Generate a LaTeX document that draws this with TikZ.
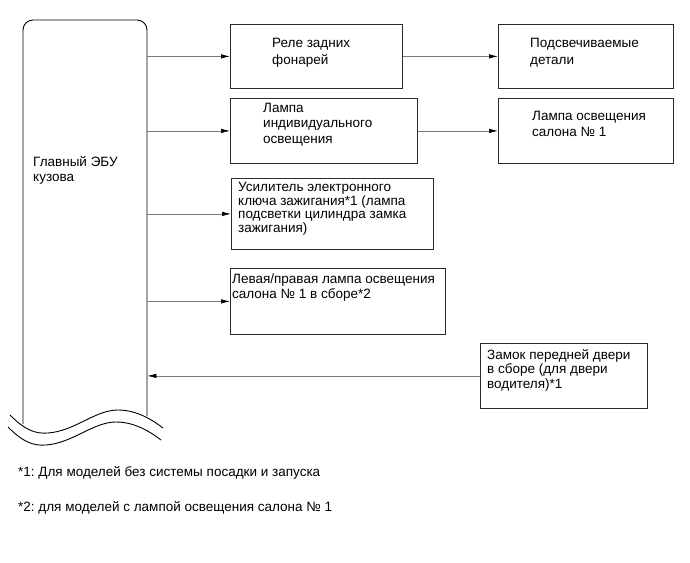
\documentclass[tikz,border=0pt]{standalone}
\usepackage{fontspec}
\setmainfont{Liberation Sans}
\frenchspacing
\usetikzlibrary{arrows.meta}

\begin{document}
\begin{tikzpicture}[x=1pt, y=-1pt]
    \definecolor{borderColour}{HTML}{2B2B2B}
    \definecolor{lineColour}{HTML}{7A7A7A}

    \tikzset{
        box/.style={draw=borderColour, line width=0.8pt, anchor=north west, inner sep=0pt},
        txt/.style={anchor=north west, align=left, inner sep=0pt, font=\fontsize{13.5}{15.5}\selectfont},
        arr/.style={draw=lineColour, line width=0.7pt, -{Latex[length=9pt, width=4.5pt, color=black]}}
    }
    \def\wavePath{(10,415) .. controls (25,430) and (35,434) .. (48,433) .. controls (75,431) and (95,410) .. (118,410) .. controls (135,410) and (150,418) .. (163,428)}

    \useasboundingbox (0,0) rectangle (690,562);

    % Main body ECU, open at the bottom
    \node[anchor=north west, minimum width=124pt, minimum height=396pt, inner sep=0pt] (ecu) at (23,20) {};
    \draw[line width=0.9pt, rounded corners=10pt] (23,424) -- (23,20) -- (147,20) -- (147,416);
    \draw[line width=0.9pt] \wavePath;
    \draw[line width=0.9pt, shift={(-2,12)}] \wavePath;
    \node[txt] (ecuText) at (33,156) {Главный ЭБУ\\кузова};

    % Boxes
    \node[box, minimum width=172pt, minimum height=64pt] (relay) at (230,24) {};
    \node[box, minimum width=175pt, minimum height=64pt] (litParts) at (498,24) {};
    \node[box, minimum width=187pt, minimum height=65pt] (lamp) at (230,98) {};
    \node[box, minimum width=175pt, minimum height=65pt] (roomLamp) at (498,98) {};
    \node[box, minimum width=202pt, minimum height=71pt] (keyAmp) at (231,178) {};
    \node[box, minimum width=215pt, minimum height=66pt] (lrLamp) at (230,268) {};
    \node[box, minimum width=167pt, minimum height=65pt] (doorLock) at (480,343) {};

    % Box texts
    \node[txt, font=\fontsize{13.5}{17}\selectfont] (relayText) at (272,38) {Реле задних\\фонарей};
    \node[txt, font=\fontsize{13.5}{17}\selectfont] (litText) at (530,38) {Подсвечиваемые\\детали};
    \node[txt] (lampText) at (263,103) {Лампа\\индивидуального\\освещения};
    \node[txt, font=\fontsize{13.5}{16}\selectfont] (roomText) at (532,111) {Лампа освещения\\салона № 1};
    \node[txt, font=\fontsize{13.5}{13.6}\selectfont] (keyText) at (238,182) {Усилитель электронного\\ключа зажигания*1 (лампа\\подсветки цилиндра замка\\зажигания)};
    \node[txt, font=\fontsize{13.5}{14.5}\selectfont] (lrText) at (232,274) {Левая/правая лампа освещения\\салона № 1 в сборе*2};
    \node[txt, font=\fontsize{13.5}{14.5}\selectfont] (doorText) at (487,349) {Замок передней двери\\в сборе (для двери\\водителя)*1};

    % Connectors
    \draw[arr] (ecu.east |- relay.west) -- (relay.west);
    \draw[arr] (relay.east) -- (litParts.west);
    \draw[arr] (ecu.east |- lamp.west) -- (lamp.west);
    \draw[arr] (lamp.east) -- (roomLamp.west);
    \draw[arr] (ecu.east |- keyAmp.west) -- (keyAmp.west);
    \draw[arr] (ecu.east |- lrLamp.west) -- (lrLamp.west);
    \draw[arr] (doorLock.west) -- (ecu.east |- doorLock.west);

    % Footnotes
    \node[txt] (note1) at (18,466) {*1: Для моделей без системы посадки и запуска};
    \node[txt] (note2) at (18,501) {*2: для моделей с лампой освещения салона № 1};
\end{tikzpicture}
\end{document}
